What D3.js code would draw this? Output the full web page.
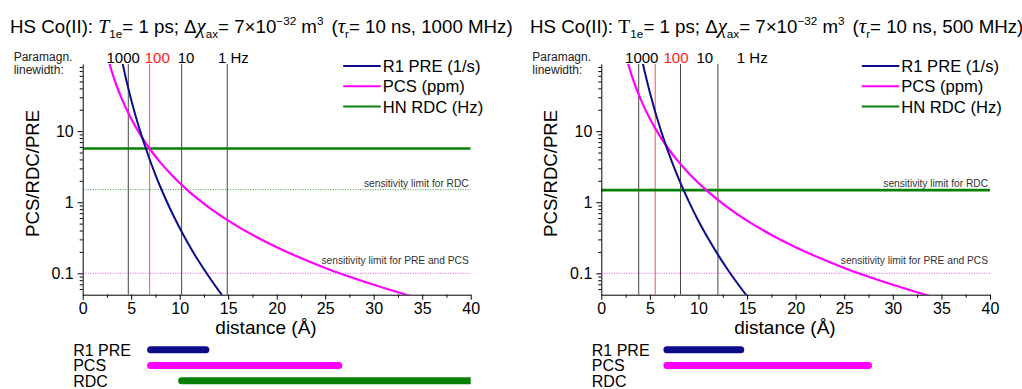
<!DOCTYPE html>
<html>
<head>
<meta charset="utf-8">
<script src="https://cdn.jsdelivr.net/npm/d3@7"></script>
<style>
  html, body { margin: 0; padding: 0; background: #fff; }
  svg { display: block; font-family: "Liberation Sans", Arial, sans-serif; }
  .axis text { font-family: "Liberation Sans", Arial, sans-serif; fill: #000; }
  .axis path, .axis line { stroke: #000; stroke-width: 1; }
</style>
</head>
<body>
<svg id="chart" width="1022" height="389"></svg>
<script>
// ---- data -------------------------------------------------------------
// distances (Å) at which the R1 PRE curves are sampled
const preDistances = [4, 4.5, 5, 5.5, 6, 6.5, 7, 7.5, 8, 9, 10, 11, 12, 13, 14, 15];
// R1 PRE (1/s) at 1000 MHz and at 500 MHz
const pre1000 = [106, 52, 27.7, 15.6, 9.3, 5.74, 3.68, 2.43, 1.65, 0.815, 0.433, 0.244, 0.145, 0.09, 0.0575, 0.038];
const pre500  = [133, 65.6, 34.9, 19.7, 11.7, 7.23, 4.63, 3.06, 2.08, 1.03, 0.545, 0.308, 0.183, 0.113, 0.0724, 0.0478];
// distances (Å) for the PCS curve, and PCS (ppm) — field independent
const pcsDistances = [2.5, 3, 3.5, 4, 5, 6, 7, 8, 9, 10, 11, 12, 13, 15, 18, 20, 22, 25, 27, 30, 34];
const pcsValues    = [119, 69, 43.5, 29.1, 14.9, 8.63, 5.43, 3.64, 2.56, 1.86, 1.40, 1.08, 0.848, 0.552, 0.319, 0.233, 0.175, 0.119, 0.0947, 0.069, 0.047];
// HN RDC (Hz) at each field
const rdcLevels = [5.7, 1.48];
// sensitivity limits
const rdcLimit = 1.5;
const prePcsLimit = 0.1;
// paramagnetic linewidth markers: labels and distances (Å) per field
const linewidthLabels = ["1000", "100", "10", "1 Hz"];
const linewidthDist1000 = [4.7, 6.9, 10.2, 14.9];
const linewidthDist500  = [3.85, 5.55, 8.15, 12.0];
// usable distance ranges (Å) for each observable, per field
const rangeLabels = ["R1 PRE", "PCS", "RDC"];
const ranges1000 = [[7.0, 12.7], [7.0, 26.4], [10.2, 40]];
const ranges500  = [[6.75, 14.35], [6.75, 27.5], null];
// axis ticks
const xTicks = [0, 5, 10, 15, 20, 25, 30, 35, 40];
const xMinorTicks = [2.5, 7.5, 12.5, 17.5, 22.5, 27.5, 32.5, 37.5];
const yTicks = [0.1, 1, 10];
const yMinorTicks = [0.06, 0.07, 0.08, 0.09, 0.2, 0.3, 0.4, 0.5, 0.6, 0.7, 0.8, 0.9,
                     2, 3, 4, 5, 6, 7, 8, 9, 20, 30, 40, 50, 60, 70, 80];
// legend
const legendLabels = ["R1 PRE (1/s)", "PCS (ppm)", "HN RDC (Hz)"];

// ---- styling ----------------------------------------------------------
const colPRE = "#0d0d8a", colPCS = "#ff00ff", colRDC = "#058005";
const rangeColors = [colPRE, colPCS, colRDC];

const svg = d3.select("#chart");
svg.append("rect").attr("width", 1022).attr("height", 389).attr("fill", "#fff");

const panels = [
  { left: 82.7, right: 470.7, titleX: 10, italicT: true, freq: "1000 MHz",
    pre: pre1000, rdc: rdcLevels[0], lw: linewidthDist1000, ranges: ranges1000 },
  { left: 601.3, right: 990, titleX: 530, italicT: false, freq: "500 MHz",
    pre: pre500, rdc: rdcLevels[1], lw: linewidthDist500, ranges: ranges500 }
];
const plotTop = 64, plotBottom = 294.7;

function drawTitle(p) {
  const t = svg.append("text").attr("x", p.titleX).attr("y", 33)
    .style("font-size", "18.7px").attr("fill", "#000");
  const serif = "'Liberation Serif', 'Times New Roman', serif";
  t.append("tspan").text("HS Co(II): ");
  t.append("tspan").style("font-family", serif).style("font-style", p.italicT ? "italic" : "normal").style("font-size", "19.8px").text("T");
  t.append("tspan").attr("dy", 5).style("font-size", "11.7px").text("1e");
  t.append("tspan").attr("dy", -5).text("= 1 ps; Δ");
  t.append("tspan").style("font-family", serif).style("font-style", "italic").style("font-size", "20.8px").text("χ");
  t.append("tspan").attr("dy", 5).style("font-size", "11.7px").text("ax");
  t.append("tspan").attr("dy", -5).text("= 7×10");
  t.append("tspan").attr("dy", -8).style("font-size", "11.7px").text("−32");
  t.append("tspan").attr("dy", 8).text(" m");
  t.append("tspan").attr("dy", -8).style("font-size", "11.7px").text("3");
  t.append("tspan").attr("dy", 8).attr("dx", 8).text("(");
  t.append("tspan").style("font-family", serif).style("font-style", "italic").style("font-size", "20.8px").text("τ");
  t.append("tspan").attr("dy", 5).style("font-size", "11.7px").text("r");
  t.append("tspan").attr("dy", -5).text("= 10 ns, " + p.freq + ")");
}

panels.forEach((p, i) => {
  drawTitle(p);

  const x = d3.scaleLinear().domain([0, 40]).range([p.left, p.right]);
  const y = d3.scaleLog().domain([0.05, 88]).range([plotBottom, plotTop]);
  const g = svg.append("g");

  const clipId = "clip" + i;
  svg.append("clipPath").attr("id", clipId).append("rect")
    .attr("x", p.left).attr("y", plotTop).attr("width", p.right - p.left).attr("height", plotBottom - plotTop);
  const plot = g.append("g").attr("clip-path", `url(#${clipId})`);

  // sensitivity limits (dotted)
  plot.append("line").attr("x1", x(0)).attr("x2", x(40)).attr("y1", y(rdcLimit)).attr("y2", y(rdcLimit))
    .attr("stroke", "#3a9a3a").attr("stroke-width", 1).attr("stroke-dasharray", "1,1.5");
  plot.append("line").attr("x1", x(0)).attr("x2", x(40)).attr("y1", y(prePcsLimit)).attr("y2", y(prePcsLimit))
    .attr("stroke", "#ee55ee").attr("stroke-width", 1).attr("stroke-dasharray", "1,1.5");

  // linewidth markers
  p.lw.forEach((d, k) => {
    plot.append("line").attr("x1", x(d)).attr("x2", x(d)).attr("y1", plotTop).attr("y2", plotBottom)
      .attr("stroke", k === 1 ? "#ff5050" : "#444").attr("stroke-width", 1);
  });

  // HN RDC level
  plot.append("line").attr("x1", x(0)).attr("x2", x(40)).attr("y1", y(p.rdc)).attr("y2", y(p.rdc))
    .attr("stroke", colRDC).attr("stroke-width", 2.6);

  const line = d3.line().curve(d3.curveMonotoneX).x(d => x(d[0])).y(d => y(d[1]));
  plot.append("path").datum(d3.zip(pcsDistances, pcsValues)).attr("d", line)
    .attr("fill", "none").attr("stroke", colPCS).attr("stroke-width", 2.2);
  plot.append("path").datum(d3.zip(preDistances, p.pre)).attr("d", line)
    .attr("fill", "none").attr("stroke", colPRE).attr("stroke-width", 2);

  // sensitivity limit labels
  g.append("text").attr("x", x(40) - 2).attr("y", y(rdcLimit) - 3).attr("text-anchor", "end")
    .style("font-size", "10.2px").attr("fill", "#333").text("sensitivity limit for RDC");
  g.append("text").attr("x", x(40) - 2).attr("y", y(prePcsLimit) - 9).attr("text-anchor", "end")
    .style("font-size", "10.2px").attr("fill", "#333").text("sensitivity limit for PRE and PCS");

  // axes
  const xAxis = g.append("g").attr("class", "axis").attr("transform", `translate(0,${plotBottom})`)
    .call(d3.axisBottom(x).tickValues(xTicks).tickSize(5).tickSizeOuter(0).tickPadding(3));
  xAxis.selectAll("text").style("font-size", "16px");
  g.append("g").attr("class", "axis").attr("transform", `translate(0,${plotBottom})`)
    .call(d3.axisBottom(x).tickValues(xMinorTicks).tickSize(3).tickSizeOuter(0).tickFormat(""))
    .select(".domain").remove();

  const yAxis = g.append("g").attr("class", "axis").attr("transform", `translate(${p.left},0)`)
    .call(d3.axisLeft(y).tickValues(yTicks).tickSize(5).tickSizeOuter(0).tickPadding(4)
      .tickFormat(d => d < 1 ? String(d) : d3.format("d")(d)));
  yAxis.selectAll("text").style("font-size", "16px");
  g.append("g").attr("class", "axis").attr("transform", `translate(${p.left},0)`)
    .call(d3.axisLeft(y).tickValues(yMinorTicks).tickSize(3).tickSizeOuter(0).tickFormat(""))
    .select(".domain").remove();

  // axis titles
  g.append("text").attr("x", x(18.9)).attr("y", 333.5).attr("text-anchor", "middle")
    .style("font-size", "19px").text("distance (Å)");
  g.append("text").attr("transform", `translate(${p.left - 44},${(plotTop + plotBottom) / 2 - 6}) rotate(-90)`)
    .attr("text-anchor", "middle").style("font-size", "18.6px").text("PCS/RDC/PRE");

  // linewidth header
  g.append("text").attr("x", p.left - 69).attr("y", 61).style("font-size", "12px").attr("fill", "#222").text("Paramagn.");
  g.append("text").attr("x", p.left - 69).attr("y", 74).style("font-size", "12px").attr("fill", "#222").text("linewidth:");
  const labelPos = [2.45, 6.4, 9.8, 13.95];
  linewidthLabels.forEach((s, k) => {
    g.append("text").attr("x", x(labelPos[k])).attr("y", 63).style("font-size", "15px")
      .attr("fill", k === 1 ? "#ff2020" : "#000").text(s);
  });

  // legend
  legendLabels.forEach((s, k) => {
    const ly = 66 + k * 20.3;
    g.append("line").attr("x1", p.left + 260.5).attr("x2", p.left + 298).attr("y1", ly).attr("y2", ly)
      .attr("stroke", rangeColors[k]).attr("stroke-width", 2);
    g.append("text").attr("x", p.left + 300).attr("y", ly + 6).style("font-size", "16.6px").text(s);
  });

  // usable ranges below the axis
  const barClip = "barclip" + i;
  svg.append("clipPath").attr("id", barClip).append("rect")
    .attr("x", 0).attr("y", 330).attr("width", p.right).attr("height", 60);
  const bars = g.append("g").attr("clip-path", `url(#${barClip})`);
  const barY = [349.8, 365.4, 380.8];
  rangeLabels.forEach((s, k) => {
    g.append("text").attr("x", p.left - 9.5).attr("y", barY[k] + 6).style("font-size", "16px").text(s);
    const r = p.ranges[k];
    if (r) {
      bars.append("line").attr("x1", x(r[0])).attr("x2", x(r[1])).attr("y1", barY[k]).attr("y2", barY[k])
        .attr("stroke", rangeColors[k]).attr("stroke-width", 7).attr("stroke-linecap", "round");
    }
  });
});
</script>
</body>
</html>
